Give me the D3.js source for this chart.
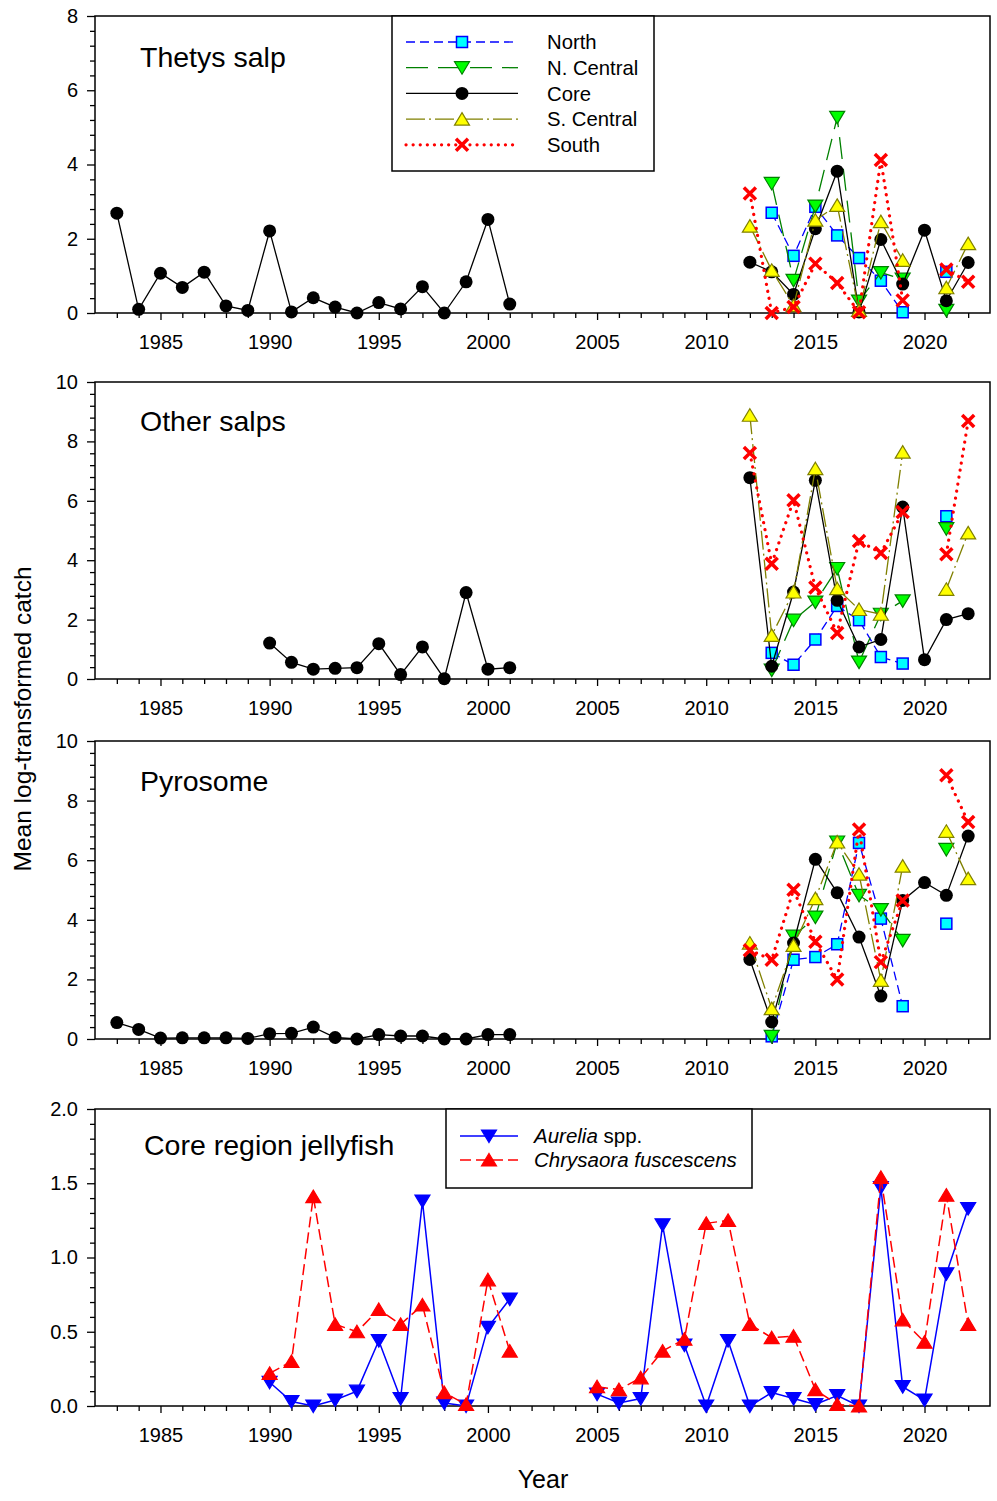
<!DOCTYPE html>
<html>
<head>
<meta charset="utf-8">
<script src="https://cdn.jsdelivr.net/npm/d3@7"></script>
<style>
  body { margin: 0; background: #fff; }
</style>
</head>
<body>
<svg id="chart" width="997" height="1501"></svg>
<script>
const FONT = '"Liberation Sans", Arial, sans-serif';

// years
const years83 = [1983, 1984, 1985, 1986, 1987, 1988, 1989, 1990, 1991, 1992, 1993, 1994, 1995, 1996, 1997, 1998, 1999, 2000, 2001];
const years90 = [1990, 1991, 1992, 1993, 1994, 1995, 1996, 1997, 1998, 1999, 2000, 2001];
const years12 = [2012, 2013, 2014, 2015, 2016, 2017, 2018, 2019, 2020, 2021, 2022];
const years05 = [2005, 2006, 2007, 2008, 2009, 2010, 2011, 2012, 2013, 2014, 2015, 2016, 2017, 2018, 2019, 2020, 2021, 2022];

// Thetys salp
const thetysCoreEarly = [2.69, 0.10, 1.07, 0.69, 1.10, 0.19, 0.07, 2.21, 0.03, 0.41, 0.16, 0.0, 0.28, 0.11, 0.71, 0.0, 0.84, 2.52, 0.24];
const thetysNorth    = [null, 2.70, 1.54, 2.86, 2.09, 1.48, 0.87, 0.02, null, 1.11, null];
const thetysNCentral = [null, 3.49, 0.88, 2.88, 5.27, 0.32, 1.09, 0.91, null, 0.07, null];
const thetysCore     = [1.37, 1.11, 0.50, 2.27, 3.82, 0.03, 1.98, 0.78, 2.23, 0.33, 1.36];
const thetysSCentral = [2.34, 1.15, 0.20, 2.50, 2.90, 0.07, 2.46, 1.42, null, 0.68, 1.87];
const thetysSouth    = [3.22, 0.0, 0.16, 1.33, 0.81, 0.02, 4.12, 0.34, null, 1.17, 0.84];

// Other salps
const otherCoreEarly = [1.21, 0.56, 0.33, 0.36, 0.38, 1.19, 0.15, 1.08, 0.01, 2.91, 0.33, 0.38];
const otherNorth    = [null, 0.88, 0.48, 1.33, 2.46, 1.98, 0.74, 0.52, null, 5.48, null];
const otherNCentral = [null, 0.30, 1.98, 2.59, 3.72, 0.57, 2.18, 2.63, null, 5.06, null];
const otherCore     = [6.78, 0.43, 2.93, 6.69, 2.65, 1.08, 1.33, 5.79, 0.65, 2.00, 2.20];
const otherSCentral = [8.88, 1.47, 2.93, 7.08, 3.04, 2.34, 2.18, 7.64, null, 3.02, 4.92];
const otherSouth    = [7.61, 3.88, 6.02, 3.08, 1.55, 4.65, 4.24, 5.62, null, 4.20, 8.69];

// Pyrosome
const pyroCoreEarly = [0.55, 0.32, 0.03, 0.04, 0.04, 0.04, 0.02, 0.18, 0.19, 0.40, 0.05, 0.0, 0.15, 0.10, 0.10, 0.0, 0.0, 0.15, 0.15];
const pyroNorth    = [null, 0.09, 2.66, 2.75, 3.18, 6.58, 4.04, 1.10, null, 3.87, null];
const pyroNCentral = [null, 0.09, 3.45, 4.09, 6.61, 4.82, 4.34, 3.31, null, 6.36, null];
const pyroCore     = [2.67, 0.57, 3.22, 6.03, 4.91, 3.42, 1.44, 4.65, 5.25, 4.82, 6.81];
const pyroSCentral = [3.22, 1.02, 3.14, 4.71, 6.61, 5.53, 1.97, 5.80, null, 6.97, 5.38];
const pyroSouth    = [2.98, 2.66, 5.01, 3.26, 2.00, 7.03, 2.58, 4.65, null, 8.85, 7.28];

// Core region jellyfish
const aureliaEarly   = [0.16, 0.03, 0.0, 0.04, 0.10, 0.44, 0.05, 1.38, 0.02, 0.0, 0.53, 0.72];
const chrysaoraEarly = [0.22, 0.30, 1.41, 0.55, 0.50, 0.65, 0.55, 0.68, 0.09, 0.01, 0.85, 0.37];
const aureliaLate    = [0.08, 0.02, 0.05, 1.22, 0.41, 0.0, 0.44, 0.0, 0.09, 0.05, 0.01, 0.07, 0.0, 1.47, 0.13, 0.04, 0.89, 1.33];
const chrysaoraLate  = [0.13, 0.11, 0.19, 0.37, 0.45, 1.23, 1.25, 0.55, 0.46, 0.47, 0.11, 0.01, 0.0, 1.54, 0.58, 0.43, 1.42, 0.55];

const xMajorTicks = [1985, 1990, 1995, 2000, 2005, 2010, 2015, 2020];

const regionLegend = [
  {key: 'north', label: 'North'},
  {key: 'ncentral', label: 'N. Central'},
  {key: 'core', label: 'Core'},
  {key: 'scentral', label: 'S. Central'},
  {key: 'south', label: 'South'}
];
const jellyLegend = [
  {key: 'aurelia', label: ['Aurelia', ' spp.']},
  {key: 'chrysaora', label: ['Chrysaora fuscescens', '']}
];

const styles = {
  north:     {stroke: '#0000ff', dash: '9 5', width: 1.3, marker: 'square', fill: '#00ffff', mstroke: '#0000ff'},
  ncentral:  {stroke: '#008000', dash: '22 10', width: 1.3, marker: 'down', fill: '#00ff00', mstroke: '#008000'},
  core:      {stroke: '#000000', dash: null, width: 1.3, marker: 'circle', fill: '#000000'},
  scentral:  {stroke: '#808000', dash: '19 4 2 4', width: 1.3, marker: 'up', fill: '#ffff00', mstroke: '#808000'},
  south:     {stroke: '#ff0000', dash: '0.1 7', width: 3.2, cap: 'round', marker: 'x'},
  aurelia:   {stroke: '#0000ff', dash: null, width: 1.5, marker: 'down', fill: '#0000ff', mstroke: '#0000ff'},
  chrysaora: {stroke: '#ff0000', dash: '11 5', width: 1.5, marker: 'up', fill: '#ff0000', mstroke: '#ff0000'}
};

const left = 95, right = 990;
const x = d3.scaleLinear().domain([1982, 2023]).range([left, right]);

const panels = [
  {top: 16, bottom: 313, ymax: 8, major: 2, minorN: 5, fmt: d3.format('d'),
   title: 'Thetys salp', tx: 140, ty: 67, legend: 'region',
   series: [
     {key: 'core', years: years83, values: thetysCoreEarly},
     {key: 'north', years: years12, values: thetysNorth},
     {key: 'ncentral', years: years12, values: thetysNCentral},
     {key: 'core', years: years12, values: thetysCore},
     {key: 'scentral', years: years12, values: thetysSCentral},
     {key: 'south', years: years12, values: thetysSouth}
   ]},
  {top: 382, bottom: 679, ymax: 10, major: 2, minorN: 5, fmt: d3.format('d'),
   title: 'Other salps', tx: 140, ty: 431,
   series: [
     {key: 'core', years: years90, values: otherCoreEarly},
     {key: 'north', years: years12, values: otherNorth},
     {key: 'ncentral', years: years12, values: otherNCentral},
     {key: 'core', years: years12, values: otherCore},
     {key: 'scentral', years: years12, values: otherSCentral},
     {key: 'south', years: years12, values: otherSouth}
   ]},
  {top: 741, bottom: 1039, ymax: 10, major: 2, minorN: 5, fmt: d3.format('d'),
   title: 'Pyrosome', tx: 140, ty: 791,
   series: [
     {key: 'core', years: years83, values: pyroCoreEarly},
     {key: 'north', years: years12, values: pyroNorth},
     {key: 'ncentral', years: years12, values: pyroNCentral},
     {key: 'core', years: years12, values: pyroCore},
     {key: 'scentral', years: years12, values: pyroSCentral},
     {key: 'south', years: years12, values: pyroSouth}
   ]},
  {top: 1109, bottom: 1406, ymax: 2, major: 0.5, minorN: 5, fmt: d3.format('.1f'),
   title: 'Core region jellyfish', tx: 144, ty: 1155, legend: 'jelly',
   series: [
     {key: 'aurelia', years: years90, values: aureliaEarly},
     {key: 'chrysaora', years: years90, values: chrysaoraEarly},
     {key: 'aurelia', years: years05, values: aureliaLate},
     {key: 'chrysaora', years: years05, values: chrysaoraLate}
   ]}
];

const svg = d3.select('#chart');

function drawMarker(g, type, cx, cy, st) {
  if (type === 'circle') {
    g.append('circle').attr('cx', cx).attr('cy', cy).attr('r', 6.5).attr('fill', st.fill);
  } else if (type === 'square') {
    g.append('rect').attr('x', cx - 5.5).attr('y', cy - 5.5).attr('width', 11).attr('height', 11)
      .attr('fill', st.fill).attr('stroke', st.mstroke).attr('stroke-width', 1.5);
  } else if (type === 'up') {
    g.append('path').attr('d', `M${cx},${cy - 6.5}L${cx + 7.5},${cy + 6}L${cx - 7.5},${cy + 6}Z`)
      .attr('fill', st.fill).attr('stroke', st.mstroke).attr('stroke-width', 1.2);
  } else if (type === 'down') {
    g.append('path').attr('d', `M${cx},${cy + 6.5}L${cx + 7.5},${cy - 6}L${cx - 7.5},${cy - 6}Z`)
      .attr('fill', st.fill).attr('stroke', st.mstroke).attr('stroke-width', 1.2);
  } else if (type === 'x') {
    g.append('path').attr('d', `M${cx - 6},${cy - 6}L${cx + 6},${cy + 6}M${cx + 6},${cy - 6}L${cx - 6},${cy + 6}`)
      .attr('stroke', '#ff0000').attr('stroke-width', 3.5).attr('fill', 'none');
  }
}

function styleLine(sel, st) {
  sel.attr('fill', 'none')
    .attr('stroke', st.stroke)
    .attr('stroke-width', st.width)
    .attr('stroke-dasharray', st.dash)
    .attr('stroke-linecap', st.cap || 'butt');
}

panels.forEach(p => {
  const y = d3.scaleLinear().domain([0, p.ymax]).range([p.bottom, p.top]);
  const g = svg.append('g');

  // x axis
  const minorYears = [];
  for (let yr = 1983; yr <= 2022; yr++) if (!xMajorTicks.includes(yr)) minorYears.push(yr);
  const xAxisMinor = d3.axisBottom(x).tickValues(minorYears).tickSize(5).tickFormat('');
  const xAxis = d3.axisBottom(x).tickValues(xMajorTicks).tickSize(7).tickPadding(15).tickFormat(d3.format('d'));
  [xAxisMinor, xAxis].forEach(ax => {
    const a = g.append('g').attr('transform', `translate(0,${p.bottom})`).call(ax);
    a.select('.domain').remove();
    a.selectAll('line').attr('stroke', '#000').attr('stroke-width', 1.3);
    a.selectAll('text').attr('font-family', FONT).attr('font-size', 20).attr('fill', '#000');
  });

  // y axis
  const yMajor = d3.range(0, p.ymax + 1e-9, p.major);
  const yMinor = d3.range(0, p.ymax + 1e-9, p.major / p.minorN).filter(v => Math.abs(v / p.major - Math.round(v / p.major)) > 1e-6);
  const yAxisMinor = d3.axisLeft(y).tickValues(yMinor).tickSize(5).tickFormat('');
  const yAxis = d3.axisLeft(y).tickValues(yMajor).tickSize(8).tickPadding(9).tickFormat(p.fmt);
  [yAxisMinor, yAxis].forEach(ax => {
    const a = g.append('g').attr('transform', `translate(${left},0)`).call(ax);
    a.select('.domain').remove();
    a.selectAll('line').attr('stroke', '#000').attr('stroke-width', 1.3);
    a.selectAll('text').attr('font-family', FONT).attr('font-size', 20).attr('fill', '#000');
  });

  // frame
  g.append('rect').attr('x', left).attr('y', p.top).attr('width', right - left).attr('height', p.bottom - p.top)
    .attr('fill', 'none').attr('stroke', '#000').attr('stroke-width', 1.5);

  // series
  const line = d3.line().defined(d => d.v != null).x(d => x(d.yr)).y(d => y(d.v));
  p.series.forEach(s => {
    const st = styles[s.key];
    const pts = s.years.map((yr, i) => ({yr, v: s.values[i]}));
    g.append('path').datum(pts).attr('d', line).call(styleLine, st);
    const mg = g.append('g');
    pts.filter(d => d.v != null).forEach(d => drawMarker(mg, st.marker, x(d.yr), y(d.v), st));
  });

  // title
  g.append('text').attr('x', p.tx).attr('y', p.ty).attr('font-family', FONT).attr('font-size', 28.5)
    .attr('fill', '#000').text(p.title);

  // legends
  if (p.legend === 'region') {
    const lg = g.append('g');
    lg.append('rect').attr('x', 392).attr('y', p.top).attr('width', 262).attr('height', 155)
      .attr('fill', '#fff').attr('stroke', '#000').attr('stroke-width', 1.5);
    regionLegend.forEach((d, i) => {
      const st = styles[d.key];
      const ly = 42 + i * 25.7;
      lg.append('path').attr('d', `M406,${ly}L518,${ly}`).call(styleLine, st);
      drawMarker(lg, st.marker, 462, ly, st);
      lg.append('text').attr('x', 547).attr('y', ly).attr('dy', '0.35em').attr('font-family', FONT)
        .attr('font-size', 20.3).attr('fill', '#000').text(d.label);
    });
  } else if (p.legend === 'jelly') {
    const lg = g.append('g');
    lg.append('rect').attr('x', 446).attr('y', p.top).attr('width', 306).attr('height', 79)
      .attr('fill', '#fff').attr('stroke', '#000').attr('stroke-width', 1.5);
    jellyLegend.forEach((d, i) => {
      const st = styles[d.key];
      const ly = 1136 + i * 24;
      lg.append('path').attr('d', `M460,${ly}L518,${ly}`).call(styleLine, st);
      drawMarker(lg, st.marker, 489, ly, st);
      const t = lg.append('text').attr('x', 534).attr('y', ly).attr('dy', '0.35em').attr('font-family', FONT)
        .attr('font-size', 20.5).attr('fill', '#000');
      t.append('tspan').attr('font-style', 'italic').text(d.label[0]);
      if (d.label[1]) t.append('tspan').text(d.label[1]);
    });
  }
});

// axis titles
svg.append('text').attr('transform', 'translate(31,719) rotate(-90)').attr('text-anchor', 'middle')
  .attr('font-family', FONT).attr('font-size', 24.5).attr('fill', '#000').text('Mean log-transformed catch');
svg.append('text').attr('x', 543).attr('y', 1488).attr('text-anchor', 'middle')
  .attr('font-family', FONT).attr('font-size', 25).attr('fill', '#000').text('Year');
</script>
</body>
</html>
